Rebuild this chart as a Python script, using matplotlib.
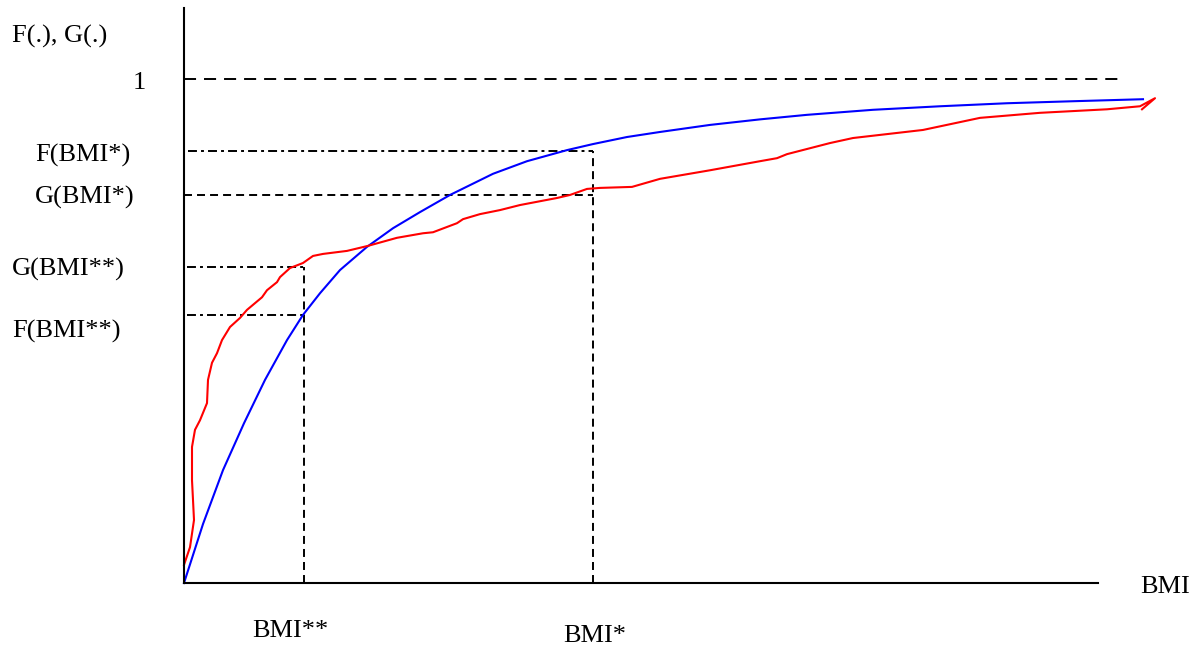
"""Sketch of the F(.) / G(.) BMI distribution comparison."""

import matplotlib

matplotlib.use("Agg")
import matplotlib.pyplot as plt

# blue curve, F(.)
F_BMI = [0.0, 0.19, 0.39, 0.60, 0.81, 1.03, 1.19, 1.36, 1.56, 1.83, 2.09, 2.36,
         2.66, 3.09, 3.43, 3.83, 4.09, 4.43, 4.76, 5.26, 5.76, 6.23, 6.89, 7.56,
         8.23, 8.89, 9.59]
F_VAL = [0.0, 0.117, 0.224, 0.317, 0.403, 0.482, 0.532, 0.575, 0.621, 0.667,
         0.704, 0.736, 0.770, 0.812, 0.837, 0.859, 0.871, 0.885, 0.895, 0.909,
         0.920, 0.929, 0.939, 0.946, 0.952, 0.956, 0.960]

# red curve, G(.)
G_BMI = [0.0, 0.06, 0.10, 0.09, 0.08, 0.08, 0.11, 0.16, 0.23, 0.24, 0.28, 0.33,
         0.38, 0.46, 0.56, 0.63, 0.78, 0.83, 0.93, 0.96, 1.06, 1.19, 1.29, 1.39,
         1.63, 1.84, 2.13, 2.39, 2.49, 2.73, 2.79, 2.96, 3.16, 3.36, 3.73, 3.86,
         4.03, 4.16, 4.48, 4.76, 5.26, 5.76, 5.93, 6.03, 6.46, 6.69, 7.39, 7.96,
         8.56, 9.23, 9.56, 9.71, 9.58]
G_VAL = [0.036, 0.071, 0.125, 0.165, 0.204, 0.270, 0.304, 0.323, 0.357, 0.403,
         0.437, 0.456, 0.482, 0.508, 0.526, 0.542, 0.567, 0.581, 0.597, 0.607,
         0.625, 0.635, 0.649, 0.653, 0.659, 0.669, 0.685, 0.694, 0.696, 0.714,
         0.722, 0.732, 0.740, 0.750, 0.764, 0.770, 0.782, 0.784, 0.786, 0.802,
         0.819, 0.837, 0.843, 0.851, 0.873, 0.883, 0.899, 0.923, 0.933, 0.940,
         0.946, 0.962, 0.940]

BMI_STAR = 4.09
BMI_2STAR = 1.20
F_STAR = 0.857
G_STAR = 0.770
G_2STAR = 0.627
F_2STAR = 0.532
ONE = 1.0
X_END = 9.14
ONE_END = 9.36

W, H = 1194, 649
SERIF = ["Liberation Serif", "DejaVu Serif"]
DASH = (0, (4.1, 2.6))
LONG_DASH = (0, (6.2, 4.1))
DASH_DOT = (0, (4.6, 2.1, 1.5, 2.1))


def fig_text(fig, px, py, s):
    fig.text(px / W, 1 - py / H, s, fontsize=19, family=SERIF,
             ha="left", va="baseline")


def main():
    fig = plt.figure(figsize=(W / 100, H / 100), dpi=100)
    ax = fig.add_axes([184 / W, (H - 583) / H, 914 / W, 575 / H])
    ax.set_xlim(0, X_END)
    ax.set_ylim(0, 1.141)
    ax.set_xticks([])
    ax.set_yticks([])
    for side in ["top", "right"]:
        ax.spines[side].set_visible(False)
    for side in ["left", "bottom"]:
        ax.spines[side].set_linewidth(1.5)

    lw = 1.4
    ax.plot([0, ONE_END], [ONE, ONE], color="black", lw=lw, ls=LONG_DASH, clip_on=False)
    ax.plot([0.04, BMI_STAR], [F_STAR, F_STAR], color="black", lw=lw, ls=DASH_DOT)
    ax.plot([0, BMI_STAR], [G_STAR, G_STAR], color="black", lw=lw, ls=DASH)
    ax.plot([BMI_STAR, BMI_STAR], [0, F_STAR], color="black", lw=lw, ls=DASH)
    ax.plot([0.03, BMI_2STAR], [G_2STAR, G_2STAR], color="black", lw=lw, ls=DASH_DOT)
    ax.plot([0.03, BMI_2STAR], [F_2STAR, F_2STAR], color="black", lw=lw, ls=DASH_DOT)
    ax.plot([BMI_2STAR, BMI_2STAR], [0, G_2STAR], color="black", lw=lw, ls=DASH)

    ax.plot(F_BMI, F_VAL, color="#0000ff", lw=1.5, clip_on=False)
    ax.plot(G_BMI, G_VAL, color="#ff0000", lw=1.5, clip_on=False)

    fig_text(fig, 12, 43, "F(.), G(.)")
    fig_text(fig, 133, 89, "1")
    fig_text(fig, 35, 162, "F(BMI*)")
    fig_text(fig, 35, 204, "G(BMI*)")
    fig_text(fig, 12, 276, "G(BMI**)")
    fig_text(fig, 12, 338, "F(BMI**)")
    fig_text(fig, 1140, 593, "BMI")
    fig_text(fig, 252, 637, "BMI**")
    fig_text(fig, 563, 642, "BMI*")

    fig.savefig("out.png", dpi=100, facecolor="white")
    plt.close(fig)


if __name__ == "__main__":
    main()
